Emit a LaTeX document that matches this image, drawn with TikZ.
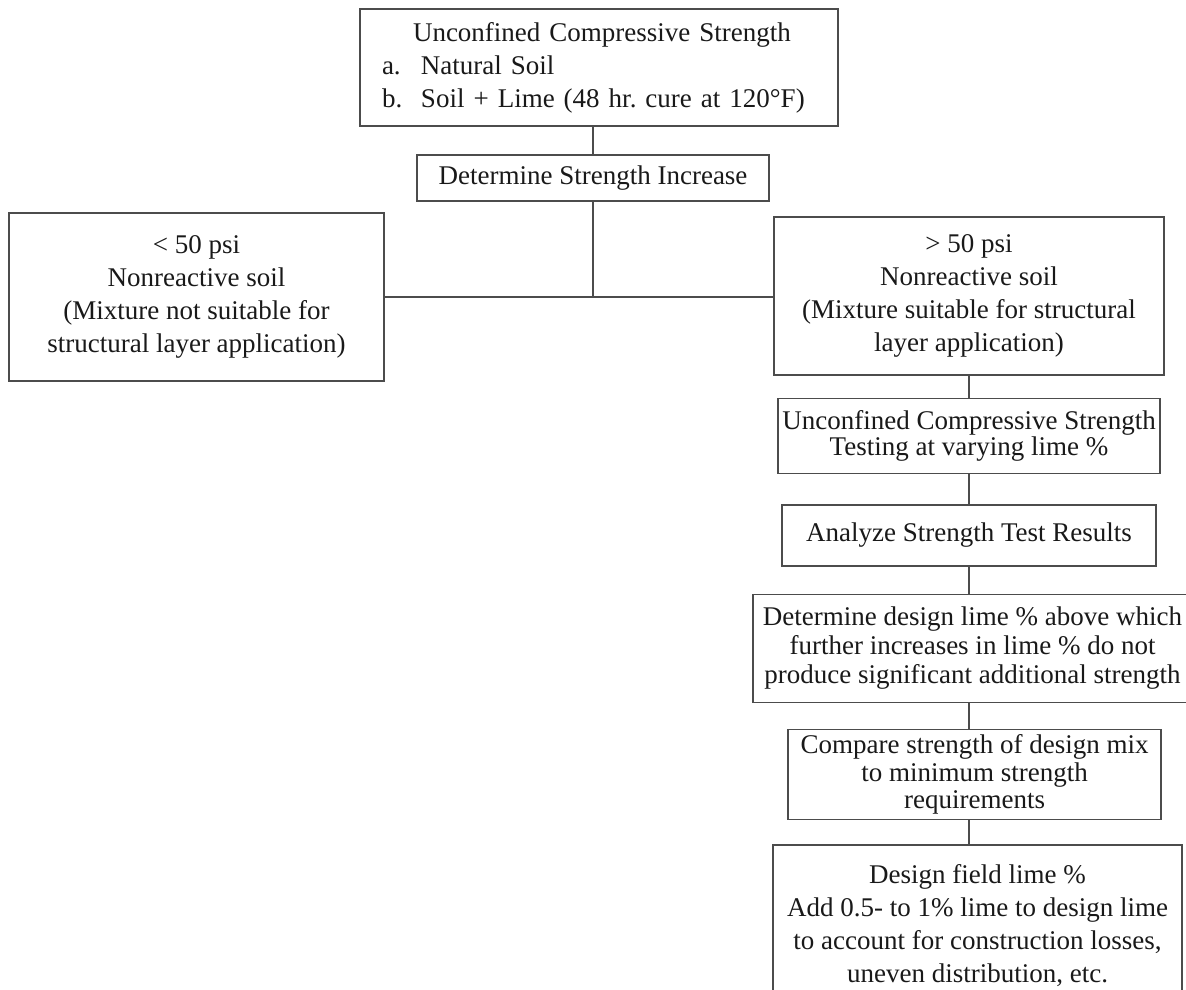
\documentclass[tikz,border=0pt]{standalone}
\usepackage{fontspec}
\setmainfont{Liberation Serif}
\usetikzlibrary{positioning}

\begin{document}
\begin{tikzpicture}[
            x=1pt, y=1pt,
            node distance=12pt,
            flow box/.style={draw=black!70, line width=0.7pt, inner sep=0pt, align=center, text=black!90, font=\fontsize{13.5}{16.5}\selectfont},
            tight box/.style={flow box, font=\fontsize{13.5}{#1}\selectfont},
            link/.style={draw=black!70, line width=0.7pt},
        ]
            \useasboundingbox (0,0) rectangle (593,-494.5);
            \clip (0,0) rectangle (593,-494.5);

            \node[flow box, align=left, text width=217pt, inner xsep=11pt, minimum height=58.5pt] (ucs_nat) at (299.5,-33.75)
                {\hspace*{15.5pt}Unconfined Compressive Strength\\ \makebox[19.5pt][l]{a.}Natural Soil\\ \makebox[19.5pt][l]{b.}Soil + Lime (48 hr.\ cure at 120°F)};
            \node[flow box, minimum width=176pt, minimum height=23pt] (incr) at (296.5,-89) {Determine Strength Increase};
            \node[flow box, minimum width=187.5pt, minimum height=84pt] (low_psi) at (98.25,-148.5)
                {< 50 psi\\ Nonreactive soil\\ (Mixture not suitable for\\ structural layer application)};
            \node[flow box, minimum width=195pt, minimum height=79pt] (high_psi) at (484.5,-148)
                {> 50 psi\\ Nonreactive soil\\ (Mixture suitable for structural\\ layer application)};
            \node[tight box=13, minimum width=191pt, minimum height=37.5pt, below=11pt of high_psi] (ucs_var)
                {Unconfined Compressive Strength\\ Testing at varying lime \%};
            \node[flow box, minimum width=187pt, minimum height=30.5pt, below=15pt of ucs_var] (analyze)
                {Analyze Strength Test Results};
            \node[tight box=14.5, minimum width=219.5pt, minimum height=54pt, below=13.5pt of analyze, xshift=1.75pt] (design_lime)
                {Determine design lime \% above which\\ further increases in lime \% do not\\ produce significant additional strength};
            \node[tight box=13.75, minimum width=186.5pt, minimum height=45pt, below=13pt of design_lime, xshift=1pt] (compare)
                {Compare strength of design mix\\ to minimum strength\\ requirements};
            \node[flow box, minimum width=204.5pt, minimum height=81pt, below=12pt of compare, xshift=1.5pt] (field_lime)
                {Design field lime \%\\ Add 0.5- to 1\% lime to design lime\\ to account for construction losses,\\ uneven distribution, etc.};

            \coordinate (split) at (incr.south |- low_psi.east);
            \path[link] (ucs_nat.south -| incr.north) -- (incr.north);
            \path[link] (incr.south) -- (split);
            \path[link] (low_psi.east) -- (low_psi.east -| high_psi.west);
            \foreach \from/\to in {high_psi/ucs_var, ucs_var/analyze, analyze/design_lime, design_lime/compare, compare/field_lime}
                \path[link] (\from.south -| high_psi.south) -- (\to.north -| high_psi.south);
        \end{tikzpicture}
\end{document}
